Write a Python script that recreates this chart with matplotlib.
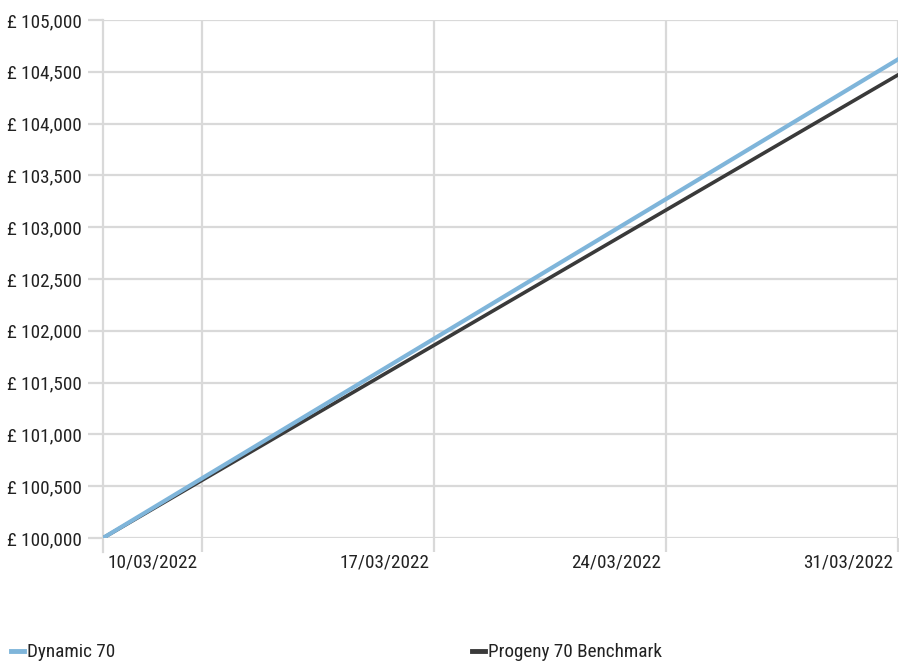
import matplotlib
matplotlib.use("Agg")
import matplotlib.pyplot as plt
import matplotlib.dates as mdates
import matplotlib.ticker as mticker
import matplotlib.transforms as mtransforms
import numpy as np
import pandas as pd
import logging

logging.getLogger("matplotlib.font_manager").setLevel(logging.ERROR)
plt.rcParams['font.family'] = ['Roboto Condensed', 'Liberation Sans Narrow', 'Arial Narrow',
                               'Roboto', 'DejaVu Sans']

# Growth of £100,000 over March 2022
dates = pd.to_datetime(["2022-03-07", "2022-03-10", "2022-03-17", "2022-03-24", "2022-03-31"])
dynamic_70 = [100000, 100578, 101925, 103272, 104620]
benchmark_70 = [100000, 100559, 101862, 103166, 104470]

tick_dates = pd.to_datetime(["2022-03-10", "2022-03-17", "2022-03-24", "2022-03-31"])
y_ticks = np.arange(100000, 105001, 500)

grid_col = "#d9d9d9"
text_col = "#222222"

fig = plt.figure(figsize=(8.99, 6.62), dpi=100)
ax = fig.add_axes([103 / 899, 1 - 538 / 662, 795 / 899, 518 / 662])

ax.plot(dates, benchmark_70, color="#3a3a3a", lw=2.6, label="Progeny 70 Benchmark", zorder=3)
ax.plot(dates, dynamic_70, color="#7fb5da", lw=3.0, label="Dynamic 70", zorder=4)

ax.set_xlim(dates[0], tick_dates[-1])
ax.set_ylim(100000, 105000)

ax.set_yticks(y_ticks)
ax.yaxis.set_major_formatter(mticker.FuncFormatter(lambda v, p: f"£ {v:,.0f}"))
ax.set_xticks(tick_dates)
ax.xaxis.set_major_formatter(mdates.DateFormatter("%d/%m/%Y"))

ax.grid(True, color=grid_col, lw=1.6)
ax.set_axisbelow(True)
for s in ax.spines.values():
    s.set_visible(False)

ax.tick_params(axis="y", length=11, width=1.6, color=grid_col, pad=4,
               labelsize=13.8, labelcolor=text_col)
ax.tick_params(axis="x", length=10, width=1.6, color=grid_col, pad=1,
               labelsize=13.8, labelcolor=text_col)

# x labels sit to the left of their gridline
offset = mtransforms.ScaledTranslation(-5 / 100, 0, fig.dpi_scale_trans)
for lbl in ax.get_xticklabels():
    lbl.set_ha("right")
    lbl.set_transform(lbl.get_transform() + offset)

# extra vertical line at the left edge of the plot
ax.axvline(dates[0], color=grid_col, lw=1.6, ymin=-0.027, clip_on=False, zorder=1)

h, l = ax.get_legend_handles_labels()
leg = fig.legend(h[::-1], l[::-1], loc="lower left", bbox_to_anchor=(3 / 899, -7 / 662),
                 ncol=2, frameon=False, fontsize=13.8, handlelength=0.7,
                 handletextpad=0.15, columnspacing=18.6, borderaxespad=0)
for t in leg.get_texts():
    t.set_color(text_col)
for ln in leg.get_lines():
    ln.set_linewidth(3.5)

fig.savefig("out.png", dpi=100)
